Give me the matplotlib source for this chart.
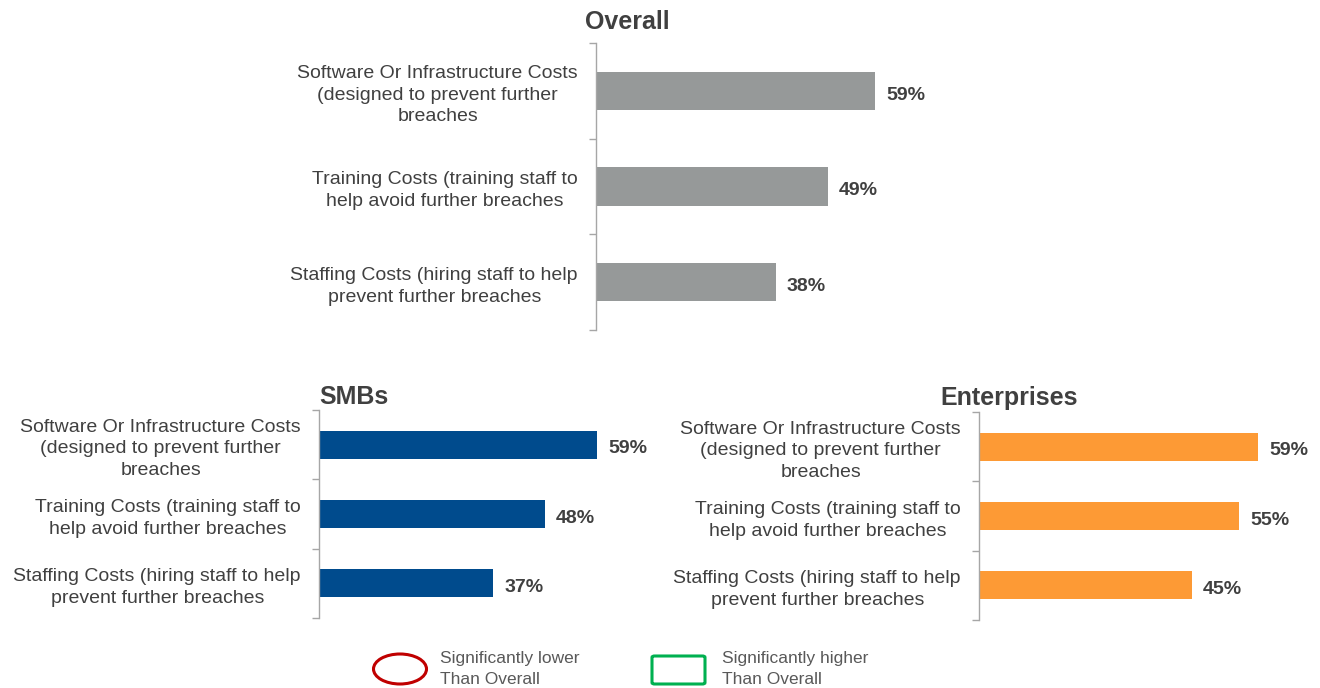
import matplotlib
matplotlib.use("Agg")
import matplotlib.pyplot as plt
import numpy as np
from matplotlib.patches import Ellipse, FancyBboxPatch

plt.rcParams["font.family"] = ["Liberation Sans", "DejaVu Sans"]

# data
categories = [
    "Software Or Infrastructure Costs\n(designed to prevent further\nbreaches",
    "Training Costs (training staff to\nhelp avoid further breaches",
    "Staffing Costs (hiring staff to help\nprevent further breaches",
]
overall = [59, 49, 38]
smbs = [59, 48, 37]
enterprises = [59, 55, 45]

W, H = 1320, 688
TEXT = "#404040"
SPINE = "#a6a6a6"

fig = plt.figure(figsize=(W / 100, H / 100), dpi=100)


def px_rect(left, top, right, bottom):
    # pixel box -> figure fraction rect
    return [left / W, 1 - bottom / H, (right - left) / W, (bottom - top) / H]


def panel(rect, values, color):
    ax = fig.add_axes(rect)
    y = np.arange(len(categories))
    bars = ax.barh(y, values, height=0.4, color=color)
    ax.set_xlim(0, 100)
    ax.set_ylim(len(categories) - 0.5, -0.5)

    # boundary ticks on the spine, labels at the bar centres
    ax.set_yticks(np.arange(len(categories) + 1) - 0.5)
    ax.set_yticklabels([])
    ax.set_yticks(y, categories, minor=True)
    ax.tick_params(axis="y", which="major", length=5, color=SPINE, width=1)
    ax.tick_params(axis="y", which="minor", length=0, pad=13,
                   labelsize=14, labelcolor=TEXT)
    for t in ax.get_yticklabels(minor=True):
        t.set_multialignment("center")
        t.set_linespacing(1.35)

    ax.set_xticks([])
    for s in ["top", "right", "bottom"]:
        ax.spines[s].set_visible(False)
    ax.spines["left"].set_color(SPINE)
    ax.spines["left"].set_linewidth(1)

    labels = ax.bar_label(bars, labels=[f"{v}%" for v in values], padding=8,
                          fontsize=14, fontweight="bold", color=TEXT)
    for lab in labels:
        lab.set_va("center")
        lab.xyann = (8, -3)
    return ax


panel(px_rect(596, 43, 1069, 330), overall, "#969999")
panel(px_rect(319, 410, 790, 618), smbs, "#004b8d")
panel(px_rect(979, 412, 1452, 620), enterprises, "#fd9a35")

fig.text(627 / W, 1 - 22 / H, "Overall", ha="center", va="center",
         fontsize=18, fontweight="bold", color=TEXT)
fig.text(319 / W, 1 - 397 / H, "SMBs", ha="left", va="center",
         fontsize=18, fontweight="bold", color=TEXT)
fig.text(940 / W, 1 - 398 / H, "Enterprises", ha="left", va="center",
         fontsize=18, fontweight="bold", color=TEXT)

# legend
fig.add_artist(Ellipse((400 / W, 1 - 669 / H), 53 / W, 30 / H,
                       transform=fig.transFigure, fill=False,
                       edgecolor="#c00000", linewidth=2.2))
fig.add_artist(FancyBboxPatch((652 / W, 1 - 684 / H), 53 / W, 28 / H,
                              boxstyle="round,pad=0,rounding_size=0.002",
                              transform=fig.transFigure, fill=False,
                              edgecolor="#00b050", linewidth=2.2))
fig.text(440 / W, 1 - 669 / H, "Significantly lower\nThan Overall",
         ha="left", va="center", fontsize=12.5, color="#595959", linespacing=1.42)
fig.text(722 / W, 1 - 669 / H, "Significantly higher\nThan Overall",
         ha="left", va="center", fontsize=12.5, color="#595959", linespacing=1.42)

fig.savefig("out.png", dpi=100)
